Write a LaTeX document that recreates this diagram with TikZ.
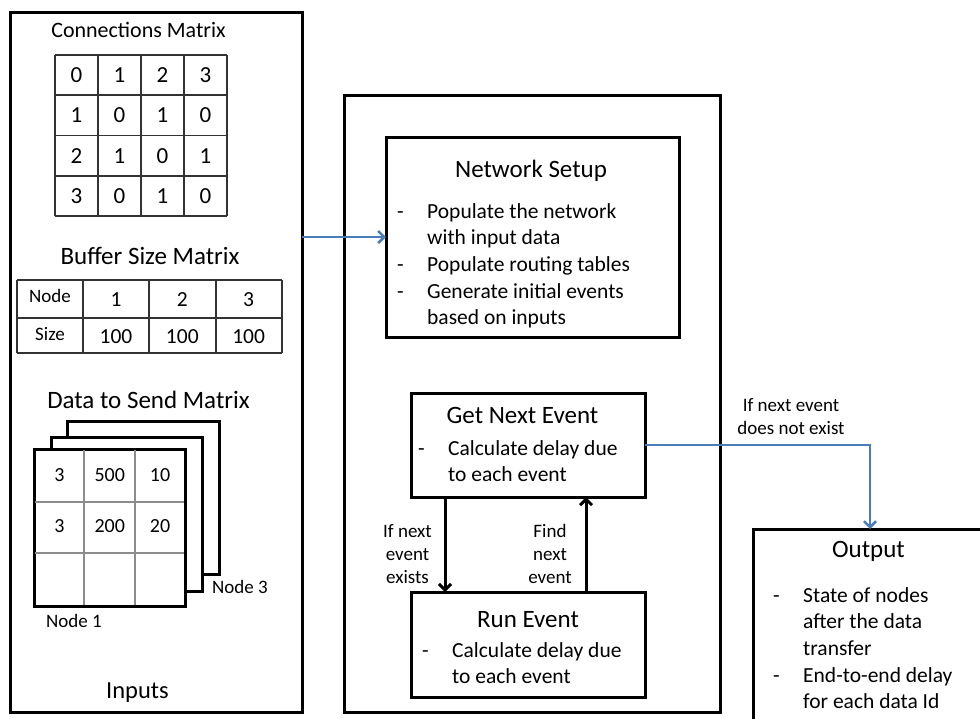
\documentclass[tikz,border=0pt]{standalone}
\usepackage{fontspec}
\setmainfont{Carlito}
\usetikzlibrary{arrows.meta}
\newcommand{\fsz}[2]{\fontsize{#1}{#2}\selectfont}
\definecolor{linkblue}{RGB}{74,126,187}

\begin{document}
\begin{tikzpicture}[x=1pt,y=-1pt,
  box/.style={draw=black, line width=3pt, fill=white, inner sep=0pt, outer sep=0pt, anchor=north west},
  cgrid/.style={draw=black!80, line width=1.6pt},
  dgrid/.style={draw=black!45, line width=1.2pt},
  txt/.style={inner sep=0pt, anchor=base},
  lbl/.style={inner sep=0pt, anchor=base, font=\fsz{19}{23}},
  digit/.style={inner sep=0pt, anchor=center, font=\fsz{23}{27}},
  bullets/.style={inner sep=0pt, anchor=base west, font=\fsz{21.5}{26.7}},
  title/.style={inner sep=0pt, anchor=base, font=\fsz{25}{30}},
  flow/.style={draw=black, line width=3pt, -{Straight Barb[length=6pt,width=12pt]}},
  blueflow/.style={draw=linkblue, line width=2.6pt, -{Straight Barb[length=6pt,width=12pt]}}
]
\useasboundingbox (0,0) rectangle (980,718);
\clip (0,0) rectangle (980,718);
\fill[white] (0,0) rectangle (980,718);

% ---------------- Inputs panel ----------------
\node[box, minimum width=292pt, minimum height=700pt] (inputs) at (10,12) {};

% Connections matrix
\node[txt, font=\fsz{22}{26}] (cmtitle) at (138.5,37) {Connections Matrix};
\foreach \i in {0,...,4} {
  \draw[cgrid] (55+43*\i,55) -- (55+43*\i,216);
  \draw[cgrid] (55,55+40.25*\i) -- (227,55+40.25*\i);
}
\foreach \row [count=\r from 0] in {{0,1,2,3},{1,0,1,0},{2,1,0,1},{3,0,1,0}}
  \foreach \v [count=\c from 0] in \row
    \node[digit] (cm-\r-\c) at (76.5+43*\c, 75.3+40.25*\r) {\v};

% Buffer size matrix
\node[title] (bstitle) at (150,264) {Buffer Size Matrix};
\foreach \x in {17,83,149,216,282}
  \draw[cgrid] (\x,280) -- (\x,353);
\foreach \y in {280,318,353}
  \draw[cgrid] (17,\y) -- (282,\y);
\node[txt, font=\fsz{19}{23}] (bs-node) at (50,302) {Node};
\node[txt, font=\fsz{19}{23}] (bs-size) at (50,340) {Size};
\foreach \v [count=\c from 0] in {1,2,3} {
  \node[txt, font=\fsz{21.5}{26}] (bs-id-\v) at (116+66.3*\c,306) {\v};
  \node[txt, font=\fsz{21.5}{26}] (bs-val-\v) at (116+66.3*\c,343) {100};
}

% Data to send matrix (stack of per-node sheets)
\node[title] (dstitle) at (148.5,408) {Data to Send Matrix};
\node[box, minimum width=152pt, minimum height=153pt] (sheet3) at (67,421) {};
\node[box, minimum width=151pt, minimum height=154pt] (sheet2) at (51,437) {};
\node[box, minimum width=151pt, minimum height=157pt] (sheet1) at (34,449) {};
\foreach \x in {84,135}
  \draw[dgrid] (\x,450) -- (\x,605);
\foreach \y in {502,553}
  \draw[dgrid] (35,\y) -- (184,\y);
\foreach \v [count=\c from 0] in {3,500,10}
  \node[txt, font=\fsz{20}{24}] (ds-a-\c) at (59.5+50.3*\c,481) {\v};
\foreach \v [count=\c from 0] in {3,200,20}
  \node[txt, font=\fsz{20}{24}] (ds-b-\c) at (59.5+50.3*\c,532) {\v};
\node[lbl, anchor=base west] (node3) at (212,593) {Node 3};
\node[lbl, anchor=base west] (node1) at (46,627) {Node 1};

\node[title, font=\fsz{24.5}{30}] (inlabel) at (137.5,698) {Inputs};

% ---------------- Simulation panel ----------------
\node[box, minimum width=376pt, minimum height=617pt] (sim) at (344,95) {};

\node[box, minimum width=293pt, minimum height=200pt] (setup) at (386,137) {};
\node[title] (setuptitle) at (531,177) {Network Setup};
\node[bullets] (setuptext) at (397,218) {%
  \begin{tabular}[t]{@{}p{30pt}@{}l@{}}
  - & Populate the network\\
    & with input data\\
  - & Populate routing tables\\
  - & Generate initial events\\
    & based on inputs
  \end{tabular}};

\node[box, minimum width=234pt, minimum height=104pt] (getnext) at (411,393) {};
\node[title] (getnexttitle) at (522.5,423) {Get Next Event};
\node[bullets] (getnexttext) at (418,455) {%
  \begin{tabular}[t]{@{}p{30pt}@{}l@{}}
  - & Calculate delay due\\
    & to each event
  \end{tabular}};

\node[box, minimum width=234pt, minimum height=105pt] (run) at (411,592) {};
\node[title] (runtitle) at (528,627) {Run Event};
\node[bullets] (runtext) at (422,657) {%
  \begin{tabular}[t]{@{}p{30pt}@{}l@{}}
  - & Calculate delay due\\
    & to each event
  \end{tabular}};

% ---------------- Output panel ----------------
\node[box, minimum width=234pt, minimum height=220pt] (output) at (753,529) {};
\node[title] (outtitle) at (868.5,557) {Output};
\node[bullets] (outtext) at (773,602) {%
  \begin{tabular}[t]{@{}p{30pt}@{}l@{}}
  - & State of nodes\\
    & after the data\\
    & transfer\\
  - & End-to-end delay\\
    & for each data Id
  \end{tabular}};

% ---------------- Connectors ----------------
\draw[blueflow] (inputs.east |- setup.west) -- (setup.west);
\draw[flow] ([xshift=-83pt]getnext.south) -- ([xshift=-83pt]run.north);
\draw[flow] ([xshift=58pt]run.north) -- ([xshift=58pt]getnext.south);
\draw[blueflow] (getnext.east) -| (output.north);

\node[lbl] (exists) at (407.5,537) {%
  \begin{tabular}[t]{@{}c@{}}If next\\ event\\ exists\end{tabular}};
\node[lbl] (findnext) at (550,537) {%
  \begin{tabular}[t]{@{}c@{}}Find\\ next\\ event\end{tabular}};
\node[lbl] (noexist) at (791,411) {%
  \begin{tabular}[t]{@{}c@{}}If next event\\ does not exist\end{tabular}};
\end{tikzpicture}
\end{document}
